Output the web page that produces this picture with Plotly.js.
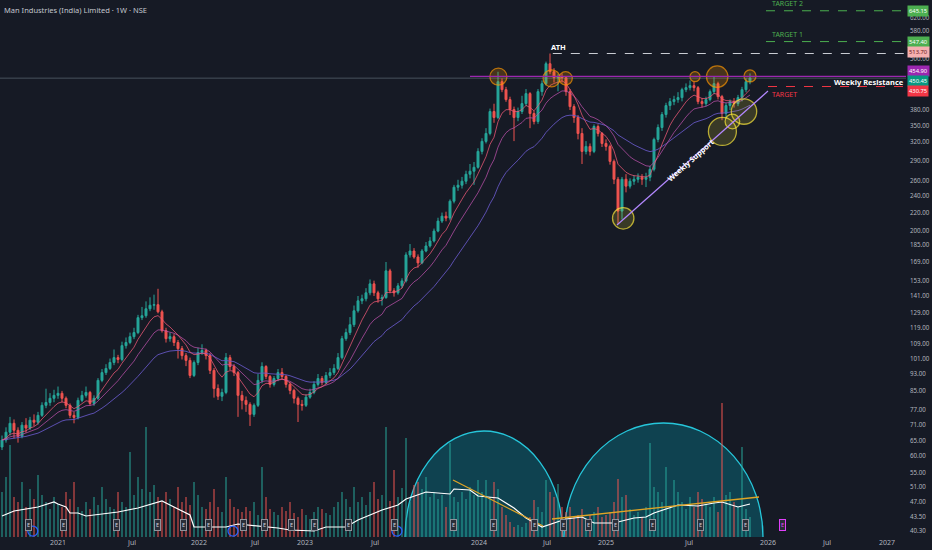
<!DOCTYPE html>
<html><head><meta charset="utf-8">
<script src="https://cdn.plot.ly/plotly-3.0.1.min.js"></script>
<style>html,body{margin:0;padding:0;background:#161a25;}#chart{width:932px;height:550px;}</style>
</head><body><div id="chart"></div>
<script>
// ---- price data (weekly-style bars) ----
const firstOpen = 63;
const closes = [65.4,68.2,71.5,68.9,66.7,70.8,69.7,72.7,71.9,74.6,
78.7,79.9,81.7,83.0,83.9,81.7,78.7,74.6,73.8,80.8,
83.0,84.3,79.5,81.7,89.9,93.7,95.8,98.9,101.5,100.5,
108.2,110,113.5,116,125.6,126.9,131.7,134.2,134.6,129.6,
117.2,112.3,113.5,110,106.5,102.6,100,92.3,98.9,104.3,
105.4,102.6,94.8,86.1,82.6,84.3,101.5,96.8,93.7,83.0,
80.8,79.1,75.0,78.7,89.9,96.8,91.8,88.0,90.8,93.7,
91.8,88.0,85.2,81.7,79.1,78.7,82.2,84.3,88.0,90.8,
88.9,92.3,93.7,95.8,101.5,112.3,116,121,130.3,137.4,
138.9,143.4,150.4,143.4,138.9,139.7,161.2,145,143.4,148.8,
152.8,175.5,179.2,173.6,168.2,179.2,184.1,189,199.3,210.2,
215.8,213.6,233.7,251.8,254.5,260,269.8,274.2,280,304.8,
321.5,335.4,377,365.2,442.1,423.7,401.8,381,365.2,377,
393.3,414.8,373,357.5,419.2,437.4,486.5,466.2,451.6,454,
451.6,419.2,387.1,365.2,335.4,304.8,313,304.8,348.1,335.4,
318,313,289,262.7,221.7,262.7,253.2,260,262.7,265.5,
262.7,265.5,277,324.9,346.2,371,389.2,397.5,401.8,406.1,
423.7,428.2,432.8,428.2,397.5,393.3,401.8,419.2,437.4,408.2,
373,389.2,397.5,393.3,406.1,423.7,442.1,450.45];
const highs = [67,70,74,73,70,72,73.5,74,75,76,
80,86,84,85.5,87,85,82.5,79.5,76,82,
85,87,85,83,91,95.5,98,101,106,103,
110.5,113,116,119,127.5,133,137,140,142,146.5,
131,119,116,115,111.5,108,104,101.5,100,107,
109,106.5,104,96,88,86,104,103,98,94.5,
85,82.5,80,79.5,93,99,97.5,92.5,92,95.5,
96,92.5,89,86,82.5,81,83.5,86,89.5,93,
92,94,96,98,104,114,118.5,126,134,141,
142,147,154,153,145,142,169,163,147,151,
155,178,186,182,176,181,188,193,202,214,
220,221,236,255,262,266,275,285,288,310,
327,345,383,393,466,450,430,408,387,385,
410,425,418,378,425,445,492,513.7,475,460,
462,455,425,392,370,345,322,318,352,352,
338,325,316,292,266,266,270,264,268,271,
270,272,282,328,352,376,395,405,410,418,
428,438,445,442,432,405,408,424,455,442,
412,395,402,405,412,430,450,462];
const lows = [62,64.5,67,66,64.5,66,68,69,70.5,71,
74,77.5,78.5,80,81.5,80,77.5,73.5,71.5,73,
80,82,78.5,78.5,81,89,92.5,95,97.5,98.5,
99.5,106.5,109,112,115,124,125.5,130,131,128.5,
116,110,110.5,108,101,100.5,97,91,91.5,97.5,
103,100.5,93,82,81,80.5,83.5,95,92,74,
77,76,70.5,74,78,88.5,90.5,86.5,87,89.5,
90.5,86.5,83.5,79.5,72,76.5,78,81.5,83.5,87,
87.5,88,91,92.5,95,100.5,111,114.5,119.5,129,
135,137,141.5,141,136,134,139,143,140.5,142,
147,151.5,173,172,164,167,178,182.5,187.5,198,
208,210,211,231,247,250,256,264,255,278,
300,318,332,355,362,418,397,370,322,358,
372,388,345,352,353,410,433,460,440,420,
440,410,380,355,325,285,300,298,302,330,
312,306,284,256,207,212,245,250,255,258,
255,252,260,274,320,340,365,380,390,395,
398,418,422,420,392,385,388,398,414,402,
360,365,380,385,388,398,418,436];
const volumes = [45,60,92,40,35,55,30,48,38,62,42,35,28,40,33,30,45,38,55,30,26,
35,28,40,32,50,38,30,28,45,35,30,85,42,60,48,110,45,52,40,35,
45,38,30,50,35,40,32,55,42,30,28,35,48,30,25,60,38,30,28,25,
30,26,35,22,70,40,28,25,22,30,26,35,24,20,28,22,18,25,30,28,
24,22,30,35,45,38,30,50,35,40,32,45,55,38,42,110,36,67,40,49,
99,35,52,55,48,60,40,45,38,42,30,94,40,35,45,38,50,42,57,45,
57,40,55,48,30,22,15,10,12,10,14,20,37,30,25,57,45,40,53,30,
25,30,20,22,28,18,22,25,30,20,22,25,35,58,40,42,28,22,25,20,
30,94,50,45,35,70,30,57,45,35,28,40,30,45,38,32,30,40,25,134,42,45,35,30,90,28,20];
// white indicator line in the lower pane (bar index, value)
const indIdx = [0,3,9,12,13,14,16,17,19,21,23,29,34,39,40,42,47,48,56,59,62,69,72,78,81,86,89,95,99,101,106,112,113,117,119,124,128,131,135,138,141,145,148,153,158,161,163,169,174,178,180,184,187];
const indVal = [21,26,30,34,35,33,30,24,24,21,22,25,29,35,36,32,22,10,10,13,12,9,7,6,10,10,17,27,32,38,45,43,48,47,41,39,29,19,10,14,18,20,14,14,19,20,24,32,31,34,35,30,33];

// ---- axis labels ----
const xTickIdx = [14,32.5,49.25,63.25,75.75,93.25,119.25,136.25,151,171.75,191.5,206.25,221.25];
const xTickText = ['2021','Jul','2022','Jul','2023','Jul','2024','Jul','2025','Jul','2026','Jul','2027'];
const yTickVals = [680,620,580,500,380,350,320,290,260,240,220,200,185,169,153,141,129,119,109,101,93,85,77,71,65,60,55,51,47,43.5,40.3];

// ---- drawn levels / tools ----
const athLevel = 513.7, target2 = 645.15, target1 = 547.4, resistance = 454.9, lastPrice = 450.45, targetLevel = 430.75;
const supportIdx = [153.75, 191.5];
const supportPrice = [205.9, 420.5];
const resCircIdx = [124.1, 137.4, 140.9, 173.25, 178.8, 187];
const resCircPrice = [454, 450, 450, 454, 454, 455.7];
const resCircR = [8.5, 8.5, 6.7, 5, 10.7, 6];
const supCircIdx = [155.3, 180.1, 182.6, 185.5];
const supCircPrice = [213.3, 339, 357.5, 377];
const supCircR = [10.7, 14, 7.3, 12.7];
const domeStart = [100.75, 140.5];
const domeEnd = [140.25, 190.25];
const domeHeight = [106, 114];
const volTrendIdx = [[112.75, 135.25], [137.5, 189.25]];
const volTrendVal = [[57, 11], [18, 40]];
const earningsIdx = [6.6,15.4,28.6,38.75,45.4,51.7,60.45,65.65,72.3,78,86.6,98.05,112.9,122.9,133,140.4,146.65,153.3,162.7,174.6,185.75];
const futureEarningsIdx = 195;
const dividendIdx = [7.7, 57.75, 98.75];

// ---- build ----
const idx = closes.map((_, i) => i);
const opens = [firstOpen].concat(closes.slice(0, -1));
function ema(arr, p) { const k = 2 / (p + 1); const out = []; let e = arr[0]; arr.forEach((v, i) => { e = i === 0 ? v : v * k + e * (1 - k); out.push(e); }); return out; }
const L = v => Math.log10(v);
const FONT = 'Noto Sans, sans-serif';

const volColors = closes.map((c, i) => c >= opens[i] ? 'rgba(38,166,154,0.5)' : 'rgba(239,83,80,0.5)');

const traces = [
  {type: 'bar', x: idx, y: volumes, yaxis: 'y3', marker: {color: volColors}, width: 0.4, hoverinfo: 'skip'},
  {type: 'scatter', mode: 'lines', x: indIdx, y: indVal, yaxis: 'y3', line: {color: '#ffffff', width: 1.2}, hoverinfo: 'skip'},
  {type: 'scatter', mode: 'lines', x: idx, y: ema(closes, 30), line: {color: 'rgba(103,88,200,0.85)', width: 1}, hoverinfo: 'skip'},
  {type: 'scatter', mode: 'lines', x: idx, y: ema(closes, 14), line: {color: 'rgba(186,80,170,0.75)', width: 1}, hoverinfo: 'skip'},
  {type: 'scatter', mode: 'lines', x: idx, y: ema(closes, 7), line: {color: 'rgba(240,90,120,0.75)', width: 1}, hoverinfo: 'skip'},
  {type: 'candlestick', x: idx, open: opens, high: highs, low: lows, close: closes,
   increasing: {line: {color: '#26a69a', width: 1}, fillcolor: '#26a69a'},
   decreasing: {line: {color: '#ef5350', width: 1}, fillcolor: '#ef5350'},
   whiskerwidth: 0, hoverinfo: 'skip'},
  {type: 'scatter', mode: 'markers', x: resCircIdx, y: resCircPrice, hoverinfo: 'skip',
   marker: {symbol: 'circle', size: resCircR.map(r => 2 * r), color: 'rgba(255,152,0,0.3)', line: {color: '#ff9800', width: 1.3}}},
  {type: 'scatter', mode: 'markers', x: supCircIdx, y: supCircPrice, hoverinfo: 'skip',
   marker: {symbol: 'circle', size: supCircR.map(r => 2 * r), color: 'rgba(255,235,59,0.22)', line: {color: '#ffeb3b', width: 1.3}}}
];

const XR = [-0.5, 226];
const shapes = [];
domeStart.forEach((s, k) => shapes.push({type: 'circle', xref: 'x', yref: 'y3', x0: s, x1: domeEnd[k], y0: -domeHeight[k], y1: domeHeight[k],
  fillcolor: 'rgba(0,172,193,0.28)', line: {color: '#26c6da', width: 1.3}, layer: 'below'}));
volTrendIdx.forEach((p, k) => shapes.push({type: 'line', xref: 'x', yref: 'y3', x0: p[0], x1: p[1], y0: volTrendVal[k][0], y1: volTrendVal[k][1], line: {color: '#e0a526', width: 1.3}}));
shapes.push({type: 'line', xref: 'x', yref: 'y', x0: XR[0], x1: XR[1], y0: lastPrice, y1: lastPrice, line: {color: 'rgba(130,150,160,0.45)', width: 1}});
shapes.push({type: 'line', xref: 'x', yref: 'y', x0: 117, x1: XR[1], y0: resistance, y1: resistance, line: {color: '#9c27b0', width: 1.3}});
shapes.push({type: 'line', xref: 'x', yref: 'y', x0: 137.7, x1: XR[1], y0: athLevel, y1: athLevel, line: {color: '#c8cbd2', width: 1, dash: 'dash'}});
[target2, target1].forEach(v => shapes.push({type: 'line', xref: 'x', yref: 'y', x0: 191, x1: XR[1], y0: v, y1: v, line: {color: '#4caf50', width: 1, dash: 'dash'}}));
shapes.push({type: 'line', xref: 'x', yref: 'y', x0: 191.5, x1: XR[1], y0: targetLevel, y1: targetLevel, line: {color: '#f23645', width: 1, dash: 'dash'}});
shapes.push({type: 'line', xref: 'x', yref: 'y', x0: supportIdx[0], x1: supportIdx[1], y0: supportPrice[0], y1: supportPrice[1], line: {color: '#b388ff', width: 1.2}});
dividendIdx.forEach(x => shapes.push({type: 'circle', xref: 'x', yref: 'paper', xsizemode: 'pixel', ysizemode: 'pixel', xanchor: x, yanchor: 0.011,
  x0: -5, x1: 5, y0: -5, y1: 5, line: {color: '#2962ff', width: 1.3}}));

const lbl = {family: FONT, size: 6.2, color: '#b2b5be'};
const annotations = [
  {xref: 'paper', yref: 'paper', x: 0, y: 1, xanchor: 'left', yanchor: 'top', xshift: 2, yshift: -3, showarrow: false,
   text: 'Man Industries (India) Limited · 1W · NSE', font: {family: FONT, size: 7.5, color: '#c3c6ce'}},
  {xref: 'x', yref: 'y', x: 139, y: L(athLevel), yshift: 7, showarrow: false, text: '<b>ATH</b>', font: {family: FONT, size: 7.5, color: '#ffffff'}},
  {xref: 'x', yref: 'y', x: 192, y: L(target2), xanchor: 'left', yshift: 7, showarrow: false, text: 'TARGET 2', font: {family: FONT, size: 7, color: '#4caf50'}},
  {xref: 'x', yref: 'y', x: 192, y: L(target1), xanchor: 'left', yshift: 7, showarrow: false, text: 'TARGET 1', font: {family: FONT, size: 7, color: '#4caf50'}},
  {xref: 'x', yref: 'y', x: 192, y: L(targetLevel), xanchor: 'left', yshift: -8, showarrow: false, text: 'TARGET', font: {family: FONT, size: 7, color: '#f23645'}},
  {xref: 'paper', yref: 'y', x: 1, y: L(resistance), xanchor: 'right', yshift: -6, showarrow: false, text: '<b>Weekly Resistance</b>', font: {family: FONT, size: 7.5, color: '#ffffff'}},
  {xref: 'x', yref: 'y', x: 172.2, y: L(291), textangle: -41.6, showarrow: false, text: '<b>Weekly Support</b>', font: {family: FONT, size: 7.5, color: '#ffffff'}}
];
[[target2, '#4caf50', '#ffffff', 0], [target1, '#4caf50', '#ffffff', 0], [athLevel, '#f5b0b0', '#6b1a1a', 2],
 [resistance, '#9c27b0', '#ffffff', 5], [lastPrice, '#089981', '#ffffff', -3], [targetLevel, '#f23645', '#ffffff', -4]].forEach(a => {
  annotations.push({xref: 'paper', yref: 'y', x: 1, y: L(a[0]), xanchor: 'left', xshift: 1, yshift: a[3], showarrow: false,
    text: a[0].toFixed(2), bgcolor: a[1], borderpad: 1, font: {family: FONT, size: 5.8, color: a[2]}});
});
earningsIdx.forEach(x => annotations.push({xref: 'x', yref: 'paper', x: x, y: 0.011, showarrow: false, text: 'E',
  bgcolor: '#2a2e39', bordercolor: '#8f929b', borderwidth: 1, borderpad: 1, font: {family: FONT, size: 5.5, color: '#d1d4dc'}}));
annotations.push({xref: 'x', yref: 'paper', x: futureEarningsIdx, y: 0.011, showarrow: false, text: 'E',
  bgcolor: '#2a2e39', bordercolor: '#e040fb', borderwidth: 1, borderpad: 1, font: {family: FONT, size: 5.5, color: '#e040fb'}});

const layout = {
  width: 932, height: 550,
  margin: {l: 0, r: 26, t: 0, b: 13},
  paper_bgcolor: '#161a25', plot_bgcolor: '#161a25',
  showlegend: false, bargap: 0,
  xaxis: {type: 'linear', range: XR, tickvals: xTickIdx, ticktext: xTickText, showgrid: false, zeroline: false,
    showline: false, ticks: '', tickfont: {family: FONT, size: 7, color: '#b2b5be'}, rangeslider: {visible: false}, fixedrange: true},
  yaxis: {type: 'log', range: [L(39.0), L(683.3)], side: 'right', tickvals: yTickVals, ticktext: yTickVals.map(v => v.toFixed(2)),
    showgrid: false, zeroline: false, showline: false, ticks: '', tickfont: lbl, ticklabelstandoff: 3},
  yaxis3: {overlaying: 'y', range: [0, 537], visible: false, fixedrange: true},
  shapes: shapes, annotations: annotations
};
Plotly.newPlot('chart', traces, layout, {displayModeBar: false, staticPlot: true});
</script>
</body></html>
